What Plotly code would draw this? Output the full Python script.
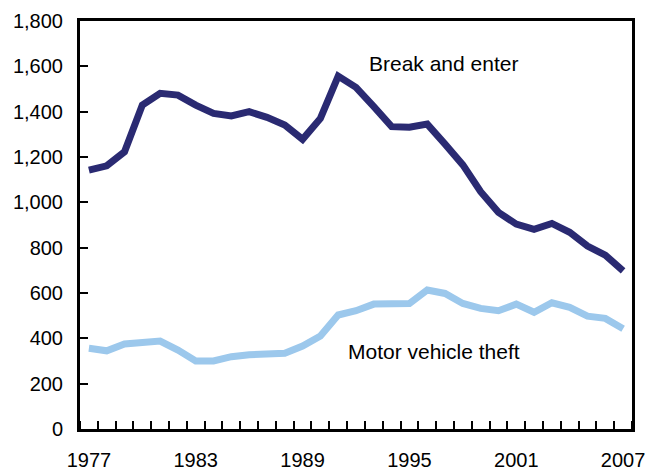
import plotly.graph_objects as go

years = list(range(1977, 2008))
break_and_enter = [1142, 1161, 1223, 1429, 1481, 1473, 1429, 1392, 1381, 1400, 1375, 1341,
                   1278, 1370, 1557, 1507, 1422, 1334, 1331, 1345, 1257, 1165, 1047, 956,
                   904, 881, 907, 868, 807, 767, 698]
motor_vehicle_theft = [356, 345, 375, 381, 388, 348, 300, 300, 319, 328, 328, 334,
                       366, 410, 503, 522, 551, 554, 554, 613, 598, 554, 532, 522,
                       551, 515, 557, 537, 498, 488, 442]
x_tick_years = [1977, 1983, 1989, 1995, 2001, 2007]
y_ticks = [0, 200, 400, 600, 800, 1000, 1200, 1400, 1600, 1800]

FONT = "Liberation Sans, Arial, Helvetica, sans-serif"

fig = go.Figure()
fig.add_trace(go.Scatter(x=years, y=break_and_enter, mode="lines",
                         line=dict(color="#2A2A72", width=7), name="Break and enter"))
fig.add_trace(go.Scatter(x=years, y=motor_vehicle_theft, mode="lines",
                         line=dict(color="#9CC8EC", width=7), name="Motor vehicle theft"))

fig.add_annotation(x=1996.94, y=1614, text="Break and enter", showarrow=False,
                   font=dict(size=21, color="black", family=FONT))
fig.add_annotation(x=1996.38, y=340, text="Motor vehicle theft", showarrow=False,
                   font=dict(size=21, color="black", family=FONT))

fig.update_layout(
    width=645, height=471,
    margin=dict(l=80, r=13, t=21, b=42),
    paper_bgcolor="white", plot_bgcolor="white",
    showlegend=False,
    font=dict(family=FONT, size=20, color="black"),
    separators=".,",
)
fig.update_xaxes(
    range=[1976.5, 2007.5], automargin=False,
    tickmode="array", tickvals=x_tick_years, ticktext=[str(y) for y in x_tick_years],
    ticks="", showgrid=False, zeroline=False,
    showline=True, linecolor="black", linewidth=3, mirror=True,
    ticklabelstandoff=11, ticklabeloverflow="allow",
    minor=dict(ticks="inside", ticklen=8, tickwidth=2, tickcolor="black",
               tick0=1976.5, dtick=1, showgrid=False),
)
fig.update_yaxes(
    range=[0, 1800], automargin=False,
    tickmode="array", tickvals=y_ticks, tickformat=",d",
    ticks="inside", ticklen=8, tickwidth=2, tickcolor="black",
    showgrid=False, zeroline=False,
    showline=True, linecolor="black", linewidth=3, mirror=True,
    ticklabelstandoff=10, ticklabeloverflow="allow",
)

fig.write_html("out.html", config={"displayModeBar": False},
               post_script="document.body.style.margin='0px';document.body.style.overflow='hidden';")
